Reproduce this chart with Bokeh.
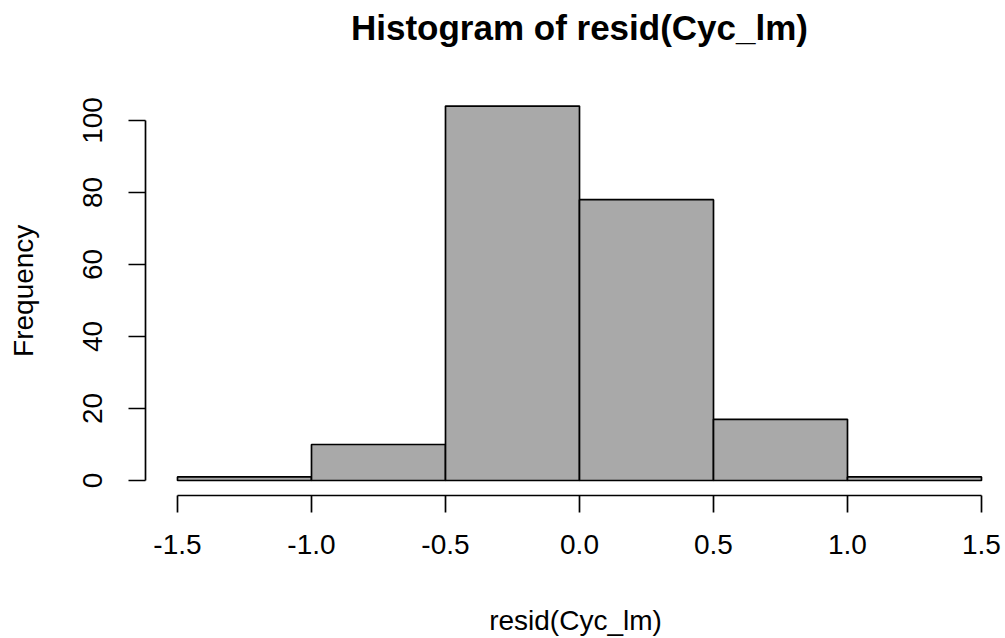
from bokeh.plotting import figure
from bokeh.models import Range1d, FixedTicker, PrintfTickFormatter, ColumnDataSource, Label
from bokeh.embed import file_html
from bokeh.resources import INLINE

# Data
bin_left = [-1.5, -1.0, -0.5, 0.0, 0.5, 1.0]
bin_right = [-1.0, -0.5, 0.0, 0.5, 1.0, 1.5]
counts = [1, 10, 104, 78, 17, 1]
x_ticks = [-1.5, -1.0, -0.5, 0.0, 0.5, 1.0, 1.5]
y_ticks = [0, 20, 40, 60, 80, 100]
title_text = "Histogram of resid(Cyc_lm)"
x_label = "resid(Cyc_lm)"
y_label = "Frequency"

FONT = "Liberation Sans"

src = ColumnDataSource(dict(left=bin_left, right=bin_right, top=counts,
                            bottom=[0] * len(counts)))

# The frame extends to the top of the canvas so the title label fits inside it
p = figure(width=1005, height=638, output_backend="svg", toolbar_location=None,
           x_range=Range1d(-1.6194, 1.5896), y_range=Range1d(-4.16, 133.33),
           min_border_left=145, min_border_right=0, min_border_top=0,
           min_border_bottom=143)

p.quad(left="left", right="right", top="top", bottom="bottom", source=src,
       fill_color="#A9A9A9", line_color="black", line_width=1.7)

p.grid.visible = False
p.outline_line_color = None
p.background_fill_color = "white"
p.border_fill_color = "white"

title = Label(x=0.0, y=125.8, x_units="data", y_units="data", text=title_text,
              text_font=FONT, text_font_size="35px", text_font_style="bold",
              text_color="black", text_align="center", text_baseline="alphabetic")
p.add_layout(title)

xa = p.xaxis[0]
xa.ticker = FixedTicker(ticks=x_ticks)
xa.formatter = PrintfTickFormatter(format="%.1f")
xa.bounds = (x_ticks[0], x_ticks[-1])
xa.axis_label = x_label

ya = p.yaxis[0]
ya.ticker = FixedTicker(ticks=y_ticks)
ya.bounds = (y_ticks[0], y_ticks[-1])
# trailing no-break spaces shift the centred label down to the plotting region's middle
ya.axis_label = y_label + "\u00a0" * 11
ya.major_label_orientation = "vertical"

for ax in (xa, ya):
    ax.axis_line_color = "black"
    ax.axis_line_width = 1.7
    ax.major_tick_line_color = "black"
    ax.major_tick_line_width = 1.7
    ax.major_tick_out = 17
    ax.major_tick_in = 0
    ax.minor_tick_line_color = None
    ax.major_label_text_font = FONT
    ax.major_label_text_font_size = "28px"
    ax.major_label_text_color = "black"
    ax.axis_label_text_font = FONT
    ax.axis_label_text_font_size = "28px"
    ax.axis_label_text_font_style = "normal"
    ax.axis_label_text_color = "black"

xa.major_label_standoff = 22
xa.axis_label_standoff = 48
ya.major_label_standoff = 26
ya.axis_label_standoff = 42

open("out.html", "w").write(file_html(p, INLINE))
